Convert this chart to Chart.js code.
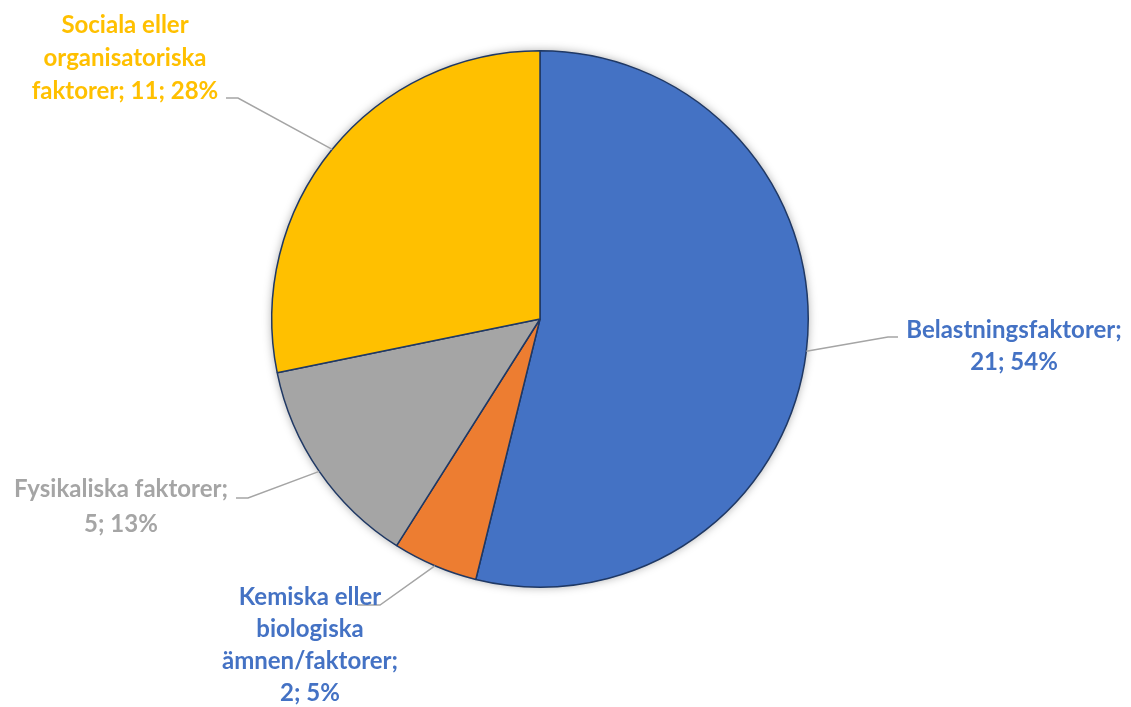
<!DOCTYPE html>
<html>
<head>
<meta charset="utf-8">
<script src="https://cdn.jsdelivr.net/npm/chart.js@4"></script>
<style>
    body { margin: 0; background: #fff; }
</style>
</head>
<body>
<canvas id="myChart" width="1131" height="707"></canvas>
<script>
const categories = [
    'Belastningsfaktorer',
    'Kemiska eller biologiska ämnen/faktorer',
    'Fysikaliska faktorer',
    'Sociala eller organisatoriska faktorer'
];
const counts = [21, 2, 5, 11];
const sliceColors = ['#4472C4', '#ED7D31', '#A5A5A5', '#FFC000'];
const textColors = ['#4472C4', '#4472C4', '#A5A5A5', '#FFC000'];

// where each data label sits: text centre x, first baseline, line gap, wrap width,
// and the leader line's elbow + end point
const labelLayout = [
    { x: 1014, y: 338, gap: 32, wrap: 235, elbow: [888, 337], end: [898, 337] },
    { x: 310, y: 605, gap: 32, wrap: 190, elbow: [380, 605], end: [357, 605] },
    { x: 121, y: 497, gap: 35, wrap: 222, elbow: [248, 498], end: [236, 498] },
    { x: 125, y: 33, gap: 33, wrap: 195, elbow: [238, 98], end: [226, 98] }
];

const total = counts.reduce((a, b) => a + b, 0);

function wrapText(ctx, text, maxWidth) {
    const words = text.split(' ');
    const lines = [];
    let line = '';
    words.forEach(w => {
        const test = line ? line + ' ' + w : w;
        if (line && ctx.measureText(test).width > maxWidth) {
            lines.push(line);
            line = w;
        } else {
            line = test;
        }
    });
    if (line) lines.push(line);
    return lines;
}

const pieShadow = {
    id: 'pieShadow',
    beforeDatasetsDraw(chart) {
        const arc = chart.getDatasetMeta(0).data[0];
        if (!arc) return;
        const ctx = chart.ctx;
        ctx.save();
        ctx.shadowColor = 'rgba(0, 0, 0, 0.35)';
        ctx.shadowBlur = 10;
        ctx.fillStyle = '#fff';
        ctx.beginPath();
        ctx.arc(arc.x, arc.y, arc.outerRadius, 0, Math.PI * 2);
        ctx.fill();
        ctx.restore();
    }
};

const calloutLabels = {
    id: 'calloutLabels',
    afterDatasetsDraw(chart) {
        const ctx = chart.ctx;
        const arcs = chart.getDatasetMeta(0).data;
        ctx.save();
        ctx.font = 'bold 24px Lato';
        ctx.textAlign = 'center';
        ctx.textBaseline = 'alphabetic';
        arcs.forEach((arc, i) => {
            const lay = labelLayout[i];
            const mid = (arc.startAngle + arc.endAngle) / 2;
            const px = arc.x + Math.cos(mid) * arc.outerRadius;
            const py = arc.y + Math.sin(mid) * arc.outerRadius;

            ctx.strokeStyle = '#A5A5A5';
            ctx.lineWidth = 1.5;
            ctx.beginPath();
            ctx.moveTo(px, py);
            ctx.lineTo(lay.elbow[0], lay.elbow[1]);
            ctx.lineTo(lay.end[0], lay.end[1]);
            ctx.stroke();

            const pct = Math.round(counts[i] / total * 100);
            const text = categories[i] + '; ' + counts[i] + '; ' + pct + '%';
            ctx.fillStyle = textColors[i];
            wrapText(ctx, text, lay.wrap).forEach((ln, j) => {
                ctx.fillText(ln, lay.x, lay.y + j * lay.gap);
            });
        });
        ctx.restore();
    }
};

const ctx = document.getElementById('myChart');
const myChart = new Chart(ctx, { // eslint-disable-line
    type: 'pie',
    data: {
        labels: categories,
        datasets: [{
            data: counts,
            backgroundColor: sliceColors,
            borderColor: '#1F3864',
            borderWidth: 1.5
        }]
    },
    options: {
        responsive: false,
        animation: false,
        devicePixelRatio: 1,
        layout: {
            padding: { left: 0, right: 51, top: 50, bottom: 119 }
        },
        plugins: {
            legend: { display: false },
            tooltip: { enabled: false }
        }
    },
    plugins: [pieShadow, calloutLabels]
});
</script>
</body>
</html>
